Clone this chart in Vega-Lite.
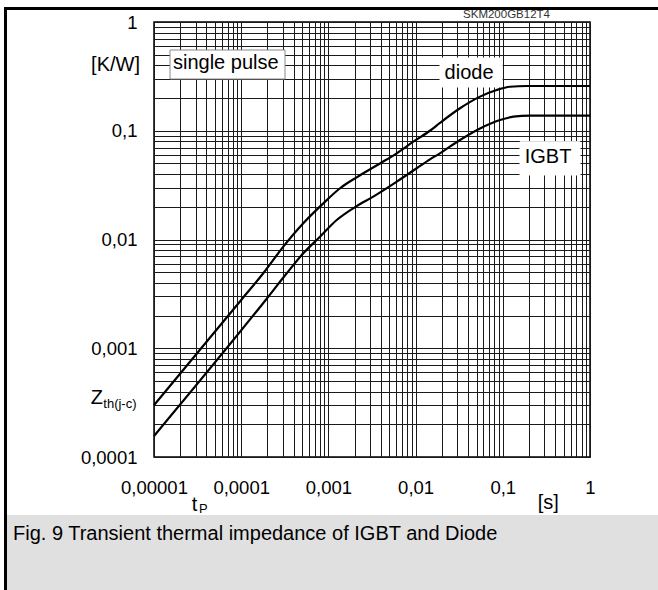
{
  "$schema": "https://vega.github.io/schema/vega-lite/v6.json",
  "width": 436,
  "height": 435,
  "autosize": {"type": "none"},
  "padding": {"left": 154, "top": 22, "right": 68, "bottom": 133},
  "background": "white",
  "config": {
    "view": {"stroke": "#000", "strokeWidth": 1.5},
    "font": "Liberation Sans"
  },
  "datasets": {
    "zth": [
      {"device": "diode", "t": 0.00001, "z": 0.0003},
      {"device": "diode", "t": 0.0001, "z": 0.00278},
      {"device": "diode", "t": 0.000179, "z": 0.00489},
      {"device": "diode", "t": 0.000304, "z": 0.00859},
      {"device": "diode", "t": 0.000515, "z": 0.0141},
      {"device": "diode", "t": 0.000874, "z": 0.0215},
      {"device": "diode", "t": 0.00136, "z": 0.0296},
      {"device": "diode", "t": 0.00211, "z": 0.0373},
      {"device": "diode", "t": 0.00391, "z": 0.05},
      {"device": "diode", "t": 0.00607, "z": 0.062},
      {"device": "diode", "t": 0.00941, "z": 0.0793},
      {"device": "diode", "t": 0.0146, "z": 0.1},
      {"device": "diode", "t": 0.019, "z": 0.118},
      {"device": "diode", "t": 0.0323, "z": 0.161},
      {"device": "diode", "t": 0.0548, "z": 0.206},
      {"device": "diode", "t": 0.0851, "z": 0.237},
      {"device": "diode", "t": 0.121, "z": 0.254},
      {"device": "diode", "t": 0.188, "z": 0.258},
      {"device": "diode", "t": 1, "z": 0.258},
      {"device": "IGBT", "t": 0.00001, "z": 0.000156},
      {"device": "IGBT", "t": 0.000191, "z": 0.00278},
      {"device": "IGBT", "t": 0.000333, "z": 0.00489},
      {"device": "IGBT", "t": 0.000515, "z": 0.00746},
      {"device": "IGBT", "t": 0.000801, "z": 0.0106},
      {"device": "IGBT", "t": 0.001245, "z": 0.0151},
      {"device": "IGBT", "t": 0.00211, "z": 0.0203},
      {"device": "IGBT", "t": 0.00327, "z": 0.0248},
      {"device": "IGBT", "t": 0.00607, "z": 0.034},
      {"device": "IGBT", "t": 0.0103, "z": 0.0452},
      {"device": "IGBT", "t": 0.0146, "z": 0.0546},
      {"device": "IGBT", "t": 0.019, "z": 0.062},
      {"device": "IGBT", "t": 0.0323, "z": 0.0822},
      {"device": "IGBT", "t": 0.0548, "z": 0.105},
      {"device": "IGBT", "t": 0.0929, "z": 0.1256},
      {"device": "IGBT", "t": 0.132, "z": 0.1346},
      {"device": "IGBT", "t": 0.205, "z": 0.1375},
      {"device": "IGBT", "t": 1, "z": 0.1375}
    ],
    "panels": [
      {"part": "border", "t": 1.905e-7, "t2": 2.062e-7, "z": 1.374, "z2": 5.984e-6},
      {"part": "border", "t": 1.905e-7, "t2": 6.024, "z": 1.374, "z2": 1.2893},
      {"part": "caption", "t": 2.062e-7, "t2": 6.024, "z": 2.929e-5, "z2": 5.984e-6}
    ],
    "boxes": [
      {"label": "single pulse", "t": 0.00001526, "t2": 0.000318, "z": 0.5528, "z2": 0.2991},
      {"label": "diode", "t": 0.01905, "t2": 0.0981, "z": 0.4667, "z2": 0.2525},
      {"label": "IGBT", "t": 0.1575, "t2": 0.768, "z": 0.0793, "z2": 0.0392}
    ],
    "texts": [
      {"kind": "left", "label": "single pulse", "t": 0.00001651, "z": 0.367},
      {"kind": "left", "label": "Z", "t": 1.88e-6, "z": 0.00031},
      {"kind": "left", "label": "t", "t": 0.00002705, "z": 0.0000322},
      {"kind": "left", "label": "Fig. 9 Transient thermal impedance of IGBT and Diode", "t": 2.416e-7, "z": 0.00001725},
      {"kind": "center", "label": "diode", "t": 0.041, "z": 0.2991},
      {"kind": "center", "label": "IGBT", "t": 0.33, "z": 0.0502},
      {"kind": "center", "label": "[s]", "t": 0.3325, "z": 0.00003325},
      {"kind": "right", "label": "[K/W]", "t": 6.91e-6, "z": 0.3543},
      {"kind": "sub", "label": "th(j-c)", "t": 2.622e-6, "z": 0.0002822},
      {"kind": "sub", "label": "P", "t": 0.0000328, "z": 0.00003035},
      {"kind": "small", "label": "SKM200GB12T4", "t": 0.1103, "z": 1.0884}
    ]
  },
  "encoding": {
    "x": {
      "field": "t",
      "type": "quantitative",
      "scale": {"type": "log", "domain": [0.00001, 1], "nice": false},
      "axis": {
        "title": null,
        "values": [0.00001, 0.00002, 0.00003, 0.00004, 0.00005, 0.00006, 0.00007, 0.00008, 0.00009,
                   0.0001, 0.0002, 0.0003, 0.0004, 0.0005, 0.0006, 0.0007, 0.0008, 0.0009,
                   0.001, 0.002, 0.003, 0.004, 0.005, 0.006, 0.007, 0.008, 0.009,
                   0.01, 0.02, 0.03, 0.04, 0.05, 0.06, 0.07, 0.08, 0.09,
                   0.1, 0.2, 0.3, 0.4, 0.5, 0.6, 0.7, 0.8, 0.9, 1],
        "grid": true,
        "gridColor": "#1a1a1a",
        "gridWidth": 1,
        "ticks": false,
        "domain": false,
        "labelExpr": "abs(log(datum.value)/LN10 - round(log(datum.value)/LN10)) < 0.000001 ? replace(format(datum.value, '.5~f'), '.', ',') : ''",
        "labelFont": "Liberation Sans",
        "labelFontSize": 18.5,
        "labelColor": "#000",
        "labelBaseline": "alphabetic",
        "labelPadding": 36,
        "labelOverlap": false,
        "labelFlush": false
      }
    },
    "y": {
      "field": "z",
      "type": "quantitative",
      "scale": {"type": "log", "domain": [0.0001, 1], "nice": false},
      "axis": {
        "title": null,
        "values": [0.0001, 0.0002, 0.0003, 0.0004, 0.0005, 0.0006, 0.0007, 0.0008, 0.0009,
                   0.001, 0.002, 0.003, 0.004, 0.005, 0.006, 0.007, 0.008, 0.009,
                   0.01, 0.02, 0.03, 0.04, 0.05, 0.06, 0.07, 0.08, 0.09,
                   0.1, 0.2, 0.3, 0.4, 0.5, 0.6, 0.7, 0.8, 0.9, 1],
        "grid": true,
        "gridColor": "#1a1a1a",
        "gridWidth": 1,
        "ticks": false,
        "domain": false,
        "labelExpr": "abs(log(datum.value)/LN10 - round(log(datum.value)/LN10)) < 0.000001 ? replace(format(datum.value, '.4~f'), '.', ',') : ''",
        "labelFont": "Liberation Sans",
        "labelFontSize": 18.5,
        "labelColor": "#000",
        "labelBaseline": "middle",
        "labelPadding": 17,
        "labelOverlap": false,
        "labelFlush": false
      }
    }
  },
  "layer": [
    {
      "data": {"name": "panels"},
      "mark": {"type": "rect", "clip": false},
      "encoding": {
        "x2": {"field": "t2"},
        "y2": {"field": "z2"},
        "color": {
          "field": "part",
          "type": "nominal",
          "scale": {"domain": ["border", "caption"], "range": ["#000000", "#e0e0e0"]},
          "legend": null
        }
      }
    },
    {
      "data": {"name": "boxes"},
      "mark": {"type": "rect", "fill": "white", "strokeWidth": 1},
      "encoding": {
        "x2": {"field": "t2"},
        "y2": {"field": "z2"},
        "stroke": {
          "condition": {"test": "datum.label === 'single pulse'", "value": "#8a8a8a"},
          "value": "white"
        }
      }
    },
    {
      "data": {"name": "zth"},
      "mark": {"type": "line", "color": "#000", "strokeWidth": 2.2, "interpolate": "monotone"},
      "encoding": {
        "detail": {"field": "device", "type": "nominal"}
      }
    },
    {
      "data": {"name": "texts"},
      "transform": [{"filter": "datum.kind === 'left'"}],
      "mark": {"type": "text", "align": "left", "baseline": "alphabetic", "fontSize": 20, "font": "Liberation Sans", "color": "#000"},
      "encoding": {"text": {"field": "label"}}
    },
    {
      "data": {"name": "texts"},
      "transform": [{"filter": "datum.kind === 'center'"}],
      "mark": {"type": "text", "align": "center", "baseline": "alphabetic", "fontSize": 20, "font": "Liberation Sans", "color": "#000"},
      "encoding": {"text": {"field": "label"}}
    },
    {
      "data": {"name": "texts"},
      "transform": [{"filter": "datum.kind === 'right'"}],
      "mark": {"type": "text", "align": "right", "baseline": "alphabetic", "fontSize": 20, "font": "Liberation Sans", "color": "#000"},
      "encoding": {"text": {"field": "label"}}
    },
    {
      "data": {"name": "texts"},
      "transform": [{"filter": "datum.kind === 'sub'"}],
      "mark": {"type": "text", "align": "left", "baseline": "alphabetic", "fontSize": 13, "font": "Liberation Sans", "color": "#000"},
      "encoding": {"text": {"field": "label"}}
    },
    {
      "data": {"name": "texts"},
      "transform": [{"filter": "datum.kind === 'small'"}],
      "mark": {"type": "text", "align": "center", "baseline": "alphabetic", "fontSize": 11.5, "font": "Liberation Sans", "color": "#333"},
      "encoding": {"text": {"field": "label"}}
    }
  ]
}
